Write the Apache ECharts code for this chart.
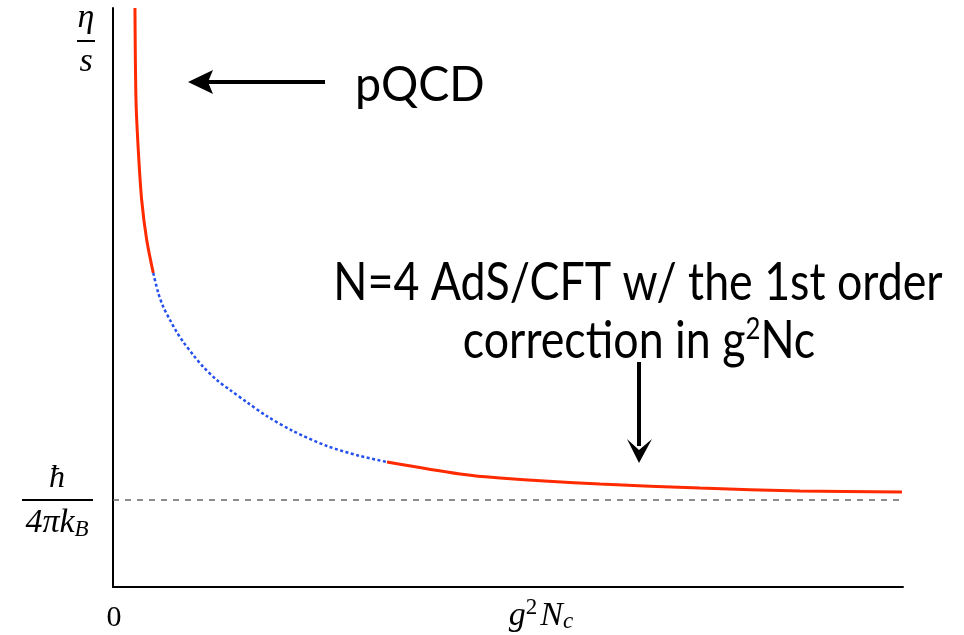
<!DOCTYPE html>
<html>
<head>
<meta charset="utf-8">
<title>eta/s</title>
<script src="https://cdn.jsdelivr.net/npm/echarts@6/dist/echarts.min.js"></script>
<style>
  html, body { margin: 0; padding: 0; background: #fff; }
  #main { width: 964px; height: 635px; }
</style>
</head>
<body>
<div id="main"></div>
<script>
// values (arbitrary units, x and y both 0..10)
var pqcdX = [0.278, 0.291, 0.320, 0.363, 0.427, 0.510];
var pqcdY = [10.0, 8.411, 7.547, 6.684, 5.993, 5.423];
var gapX = [0.510, 0.573, 0.637, 0.722, 0.806, 0.890, 1.016, 1.143, 1.313, 1.481, 1.692, 1.946, 2.278, 2.709, 3.127, 3.468];
var gapY = [5.423, 5.078, 4.836, 4.611, 4.404, 4.231, 4.007, 3.800, 3.575, 3.402, 3.195, 2.953, 2.694, 2.435, 2.263, 2.159];
var adsX = [3.468, 4.392, 4.899, 6.165, 7.430, 8.696, 9.987];
var adsY = [2.159, 1.952, 1.883, 1.779, 1.710, 1.658, 1.641];
var boundY = 1.5; // hbar / 4 pi k_B

function pairs(xs, ys) {
    var out = [];
    for (var i = 0; i < xs.length; i++) out.push([xs[i], ys[i]]);
    return out;
}

var mathFont = '"Liberation Serif", "DejaVu Serif", serif';
var textFont = 'Lato, "Open Sans", sans-serif';

function mathText(x, y, text, size, italic) {
    return {
        type: 'text', x: x, y: y,
        style: {
            text: text, fontSize: size, fontFamily: mathFont, fontStyle: italic ? 'italic' : 'normal',
            fill: '#000', textAlign: 'center', textVerticalAlign: 'middle'
        }
    };
}

var chart = echarts.init(document.getElementById('main'));
chart.setOption({
    animation: false,
    grid: { left: 113, right: 61, top: 8, bottom: 48 },
    xAxis: {
        type: 'value', min: 0, max: 10,
        axisLine: { show: true, onZero: false, lineStyle: { color: '#000', width: 2 } },
        axisTick: { show: false }, axisLabel: { show: false }, splitLine: { show: false }
    },
    yAxis: {
        type: 'value', min: 0, max: 10,
        axisLine: { show: true, onZero: false, lineStyle: { color: '#000', width: 2 } },
        axisTick: { show: false }, axisLabel: { show: false }, splitLine: { show: false }
    },
    series: [
        {
            type: 'line', data: pairs(pqcdX, pqcdY), smooth: 0.3, symbol: 'none',
            lineStyle: { color: '#ff2a00', width: 3 },
            markLine: {
                silent: true, symbol: 'none', label: { show: false },
                lineStyle: { color: '#666', type: [6, 6], width: 1.5 },
                data: [{ yAxis: boundY }]
            }
        },
        {
            type: 'line', data: pairs(gapX, gapY), smooth: 0.3, symbol: 'none',
            lineStyle: { color: '#2450ee', width: 2.5, type: [3, 2.5] }
        },
        {
            type: 'line', data: pairs(adsX, adsY), smooth: 0.3, symbol: 'none',
            lineStyle: { color: '#ff2a00', width: 3 }
        }
    ],
    graphic: [
        // eta / s
        mathText(86, 18, 'η', 34, true),
        { type: 'rect', shape: { x: 77, y: 40, width: 18, height: 2 }, style: { fill: '#000' } },
        mathText(86, 62, 's', 34, true),
        // hbar / 4 pi k_B
        mathText(57, 479, 'ħ', 32, true),
        { type: 'rect', shape: { x: 22, y: 499, width: 71, height: 2 }, style: { fill: '#000' } },
        { type: 'text', x: 57, y: 523, style: {
            text: '{m|4πk}{s|B}', textAlign: 'center', textVerticalAlign: 'middle', fill: '#000',
            rich: {
                m: { fontSize: 34, fontStyle: 'italic', fontFamily: mathFont },
                s: { fontSize: 23, fontStyle: 'italic', fontFamily: mathFont, padding: [14, 0, 0, 0] }
            }
        } },
        // axis labels
        mathText(114, 618, '0', 30, false),
        { type: 'text', x: 541, y: 616, style: {
            text: '{m|g}{p|2}{m|N}{s|c}', textAlign: 'center', textVerticalAlign: 'middle', fill: '#000',
            rich: {
                m: { fontSize: 34, fontStyle: 'italic', fontFamily: mathFont },
                p: { fontSize: 23, fontFamily: mathFont, padding: [0, 3, 16, 0] },
                s: { fontSize: 23, fontStyle: 'italic', fontFamily: mathFont, padding: [12, 0, 0, 0] }
            }
        } },
        // pQCD arrow
        { type: 'rect', shape: { x: 205, y: 80, width: 120, height: 4 }, style: { fill: '#000' } },
        { type: 'polygon', shape: { points: [[188, 82], [213, 70], [208, 82], [213, 94]] }, style: { fill: '#000' } },
        { type: 'text', x: 355, y: 86, scaleX: 0.97, style: { text: 'pQCD', fontSize: 48, fontFamily: textFont, fill: '#000', textAlign: 'left', textVerticalAlign: 'middle' } },
        // AdS/CFT label and arrow
        { type: 'text', x: 638, y: 283, scaleX: 0.86, style: { text: 'N=4 AdS/CFT w/ the 1st order', fontSize: 52, fontFamily: textFont, fill: '#000', textAlign: 'center', textVerticalAlign: 'middle' } },
        { type: 'text', x: 639, y: 341, scaleX: 0.86, style: {
            text: '{t|correction in g}{p|2}{t|Nc}', textAlign: 'center', textVerticalAlign: 'middle', fill: '#000',
            rich: {
                t: { fontSize: 52, fontFamily: textFont },
                p: { fontSize: 30, fontFamily: textFont, padding: [0, 0, 24, 0] }
            }
        } },
        { type: 'rect', shape: { x: 637, y: 362, width: 4, height: 84 }, style: { fill: '#000' } },
        { type: 'polygon', shape: { points: [[639, 463], [627, 439], [639, 450], [652, 439]] }, style: { fill: '#000' } }
    ]
});
</script>
</body>
</html>
